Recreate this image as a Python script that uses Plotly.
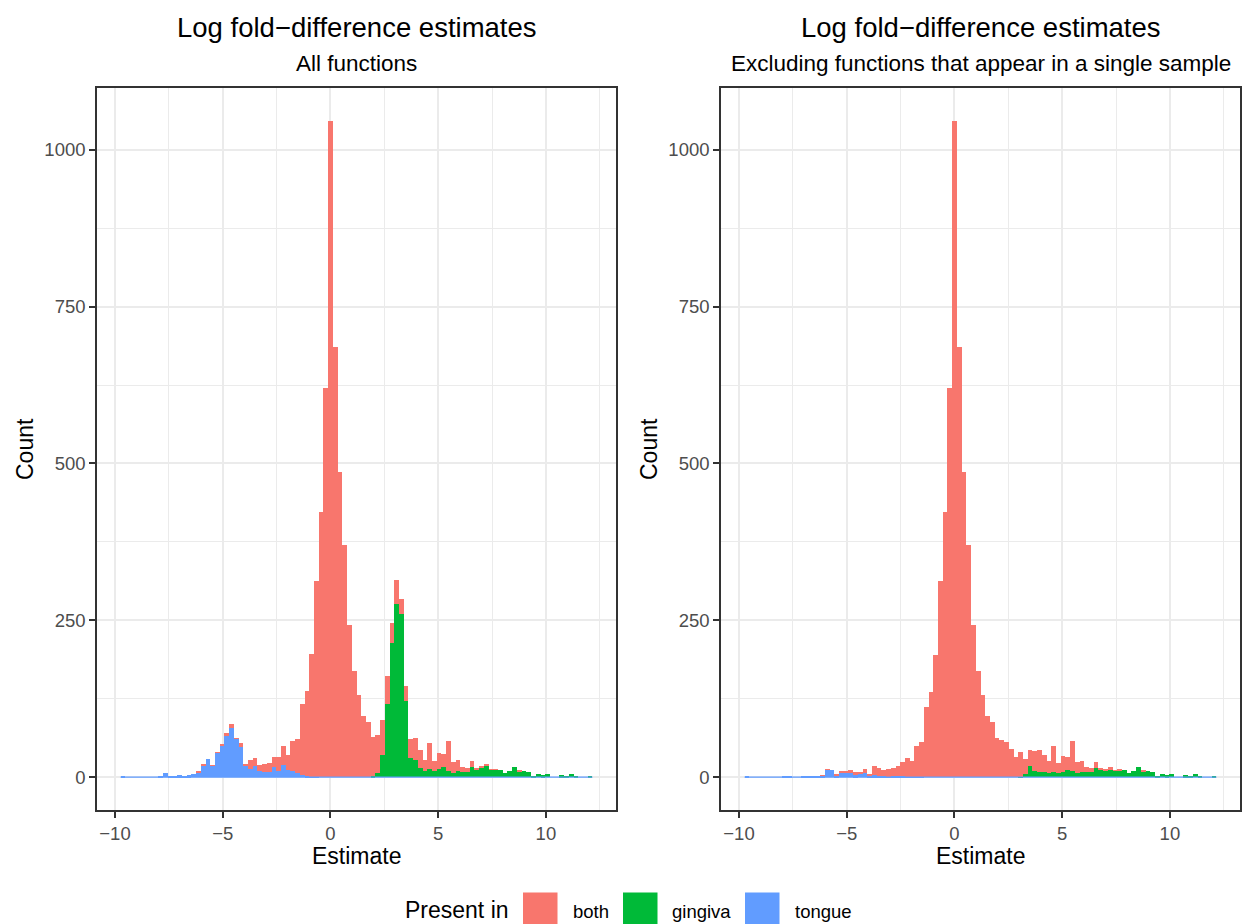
import plotly.graph_objects as go

# ---------------- data ----------------
bin_start = -9.74      # left edge of first histogram bin (Estimate units)
bin_width = 0.219      # histogram bin width
n_bins = 100

# functions present in both sites (identical in both panels)
both = [
    0, 0, 0, 0, 0, 0, 0, 0, 0, 0,
    0, 0, 0, 0, 0, 0, 1, 1, 0, 1,
    1, 3, 5, 6, 1, 7, 2, 15, 13, 9,
    12, 13, 16, 22, 30, 24, 48, 55, 112, 135,
    195, 312, 423, 620, 1046, 686, 487, 370, 243, 169,
    131, 97, 88, 62, 60, 56, 45, 32, 39, 24,
    25, 31, 35, 28, 18, 41, 16, 26, 21, 47,
    17, 18, 9, 6, 9, 2, 2, 3, 1, 1,
    0, 0, 0, 0, 1, 0, 0, 0, 0, 0,
    0, 0, 0, 0, 0, 0, 0, 0, 0, 0,
]

# panel 1: all functions
tongue_all = [
    1, 0, 0, 0, 0, 0, 0, 0, 2, 6,
    1, 2, 3, 2, 3, 5, 8, 19, 29, 18,
    39, 50, 66, 78, 61, 48, 19, 13, 18, 10,
    9, 9, 16, 10, 19, 11, 10, 6, 4, 2,
    1, 1, 0, 0, 0, 0, 0, 0, 0, 0,
    0, 0, 0, 0, 0, 0, 0, 0, 0, 0,
    0, 0, 0, 0, 0, 0, 0, 0, 0, 0,
    0, 0, 0, 0, 0, 0, 0, 0, 0, 0,
    0, 0, 0, 0, 0, 0, 0, 0, 0, 0,
    0, 0, 0, 0, 0, 0, 0, 0, 0, 0,
]
gingiva_all = [
    0, 0, 0, 0, 0, 0, 0, 0, 0, 0,
    0, 0, 0, 0, 0, 0, 0, 0, 0, 0,
    0, 0, 0, 0, 0, 0, 0, 0, 0, 0,
    0, 0, 0, 0, 0, 0, 0, 0, 0, 0,
    0, 0, 0, 0, 0, 0, 0, 0, 0, 0,
    0, 0, 0, 2, 7, 35, 117, 214, 276, 260,
    121, 30, 27, 15, 10, 13, 10, 13, 16, 10,
    7, 10, 8, 8, 16, 13, 16, 18, 12, 12,
    11, 6, 10, 16, 9, 10, 8, 2, 5, 3,
    5, 0, 0, 3, 2, 5, 2, 0, 0, 1,
]

# panel 2: excluding functions that appear in a single sample
tongue_multi = [
    1, 0, 0, 0, 0, 0, 0, 0, 2, 2,
    0, 0, 2, 2, 2, 2, 2, 12, 12, 3,
    8, 7, 7, 3, 6, 6, 3, 3, 2, 2,
    1, 2, 2, 2, 1, 1, 1, 1, 0, 0,
    0, 0, 0, 0, 0, 0, 0, 0, 0, 0,
    0, 0, 0, 0, 0, 0, 0, 0, 0, 0,
    0, 0, 0, 0, 0, 0, 0, 0, 0, 0,
    0, 0, 0, 0, 0, 0, 0, 0, 0, 0,
    0, 0, 0, 0, 0, 0, 0, 0, 0, 0,
    0, 0, 0, 0, 0, 0, 0, 0, 0, 0,
]
gingiva_multi = [
    0, 0, 0, 0, 0, 0, 0, 0, 0, 0,
    0, 0, 0, 0, 0, 0, 0, 0, 0, 0,
    0, 0, 0, 0, 0, 0, 0, 0, 0, 0,
    0, 0, 0, 0, 0, 0, 0, 0, 0, 0,
    0, 0, 0, 0, 0, 0, 0, 0, 0, 0,
    0, 0, 0, 0, 0, 0, 0, 0, 1, 5,
    18, 10, 8, 8, 7, 9, 6, 8, 11, 10,
    7, 8, 8, 8, 15, 12, 10, 13, 10, 11,
    11, 6, 10, 16, 9, 10, 8, 2, 5, 3,
    5, 0, 0, 3, 2, 5, 2, 0, 0, 1,
]

main_title = "Log fold\u2212difference estimates"
subtitles = ["All functions", "Excluding functions that appear in a single sample"]
x_title = "Estimate"
y_title = "Count"
legend_title = "Present in"
groups = ["both", "gingiva", "tongue"]
x_ticks = [-10, -5, 0, 5, 10]
y_ticks = [0, 250, 500, 750, 1000]

# ---------------- styling ----------------
W, H = 1250, 924
FONT = "Liberation Sans, Arial, Helvetica, sans-serif"
colors = {"both": "#F8766D", "gingiva": "#00BA38", "tongue": "#619CFF"}
GRID = "#EBEBEB"
DARK = "#333333"
TICKTXT = "#4D4D4D"

def px(x):
    return x / W

def py(y):
    return 1 - y / H

panel_x = [(97, 616), (721, 1240)]
panel_y = (88, 810)

centers = [bin_start + bin_width * (i + 0.5) for i in range(n_bins)]
data_lo = bin_start
data_hi = bin_start + bin_width * n_bins
xpad = 0.05 * (data_hi - data_lo)
ymax = max(t + g + b for t, g, b in zip(tongue_all, gingiva_all, both))
ypad = 0.05 * ymax

fig = go.Figure()
panels = [(tongue_all, gingiva_all, "x", "y"), (tongue_multi, gingiva_multi, "x2", "y2")]
for t_vals, g_vals, xa, ya in panels:
    # zero-height tongue bins render as a hairline along the baseline in the original
    fig.add_trace(go.Scatter(
        x=[data_lo, data_hi], y=[0, 0], mode="lines",
        line=dict(color=colors["tongue"], width=1.2),
        xaxis=xa, yaxis=ya, showlegend=False, hoverinfo="skip",
    ))
    for name, vals in (("tongue", t_vals), ("gingiva", g_vals), ("both", both)):
        fig.add_trace(go.Bar(
            x=centers, y=vals, width=bin_width, name=name,
            marker=dict(color=colors[name], line=dict(width=0)),
            xaxis=xa, yaxis=ya, showlegend=False, hoverinfo="x+y+name",
        ))

def xaxis_cfg(i):
    x0, x1 = panel_x[i]
    return dict(
        domain=[px(x0), px(x1)], anchor="y" if i == 0 else "y2",
        range=[data_lo - xpad, data_hi + xpad], tickvals=x_ticks,
        showline=True, mirror=True, linecolor=DARK, linewidth=2.2,
        showgrid=True, gridcolor=GRID, gridwidth=2.2, zeroline=False,
        ticks="outside", ticklen=5.7, tickwidth=2.2, tickcolor=DARK,
        tickfont=dict(family=FONT, size=18.5, color=TICKTXT),
        minor=dict(tickvals=[-7.5, -2.5, 2.5, 7.5, 12.5], showgrid=True,
                   gridcolor=GRID, gridwidth=1.1),
        fixedrange=True,
    )

def yaxis_cfg(i):
    return dict(
        domain=[py(panel_y[1]), py(panel_y[0])], anchor="x" if i == 0 else "x2",
        range=[-ypad, ymax + ypad], tickvals=y_ticks,
        showline=True, mirror=True, linecolor=DARK, linewidth=2.2,
        showgrid=True, gridcolor=GRID, gridwidth=2.2, zeroline=False,
        ticks="outside", ticklen=5.7, tickwidth=2.2, tickcolor=DARK,
        tickfont=dict(family=FONT, size=18.5, color=TICKTXT),
        minor=dict(tickvals=[125, 375, 625, 875], showgrid=True,
                   gridcolor=GRID, gridwidth=1.1),
        fixedrange=True,
    )

annotations = []
for i, (x0, x1) in enumerate(panel_x):
    cx = px((x0 + x1) / 2)
    annotations.append(dict(text=main_title, x=cx, y=py(28), xref="paper", yref="paper",
                            xanchor="center", yanchor="middle", showarrow=False,
                            font=dict(family=FONT, size=27.5, color="black")))
    annotations.append(dict(text=subtitles[i], x=cx, y=py(64), xref="paper", yref="paper",
                            xanchor="center", yanchor="middle", showarrow=False,
                            font=dict(family=FONT, size=22.5, color="black")))
    annotations.append(dict(text=x_title, x=cx, y=py(856), xref="paper", yref="paper",
                            xanchor="center", yanchor="middle", showarrow=False,
                            font=dict(family=FONT, size=23, color="black")))
    annotations.append(dict(text=y_title, x=px(x0 - 72), y=py(449), xref="paper", yref="paper",
                            xanchor="center", yanchor="middle", showarrow=False, textangle=-90,
                            font=dict(family=FONT, size=23, color="black")))

# legend (drawn manually to match ggplot's key layout)
shapes = []
annotations.append(dict(text=legend_title, x=px(403), y=py(910), xref="paper", yref="paper",
                        xanchor="left", yanchor="middle", showarrow=False,
                        font=dict(family=FONT, size=23, color="black")))
key_x = {"both": 523, "gingiva": 623, "tongue": 745}
lab_x = {"both": 571, "gingiva": 670, "tongue": 793}
for g in groups:
    shapes.append(dict(type="rect", xref="paper", yref="paper",
                       x0=px(key_x[g]), x1=px(key_x[g] + 34.5), y0=py(924), y1=py(892.5),
                       fillcolor=colors[g], line=dict(width=0)))
    annotations.append(dict(text=g, x=px(lab_x[g]), y=py(911), xref="paper", yref="paper",
                            xanchor="left", yanchor="middle", showarrow=False,
                            font=dict(family=FONT, size=18.5, color="black")))

fig.update_layout(
    width=W, height=H, margin=dict(l=0, r=0, t=0, b=0),
    paper_bgcolor="white", plot_bgcolor="white",
    barmode="stack", bargap=0,
    xaxis=xaxis_cfg(0), yaxis=yaxis_cfg(0),
    xaxis2=xaxis_cfg(1), yaxis2=yaxis_cfg(1),
    annotations=annotations, shapes=shapes,
    font=dict(family=FONT),
    showlegend=False,
)

fig.write_html("out.html")
